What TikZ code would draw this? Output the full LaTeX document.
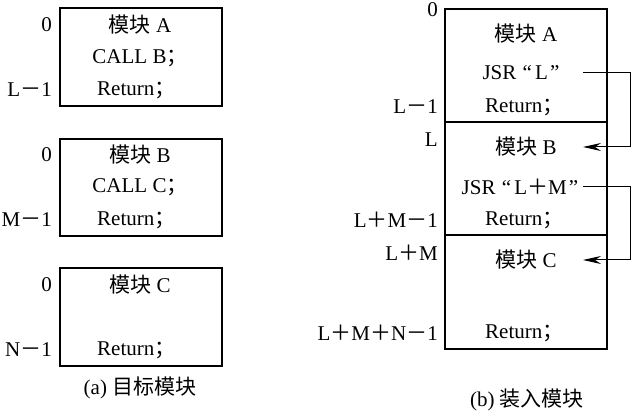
\documentclass[tikz,border=0pt]{standalone}
\usepackage{fontspec}
\setmainfont{Liberation Serif}
\newfontfamily\cjk{Noto Sans CJK SC}
\usetikzlibrary{arrows.meta,positioning}
\newcommand{\mk}{{\cjk 模块}}
\newcommand{\fen}{{\cjk ；}}
\newcommand{\jia}{{\cjk ＋}}
\newcommand{\jian}{{\cjk －}}
\newcommand{\quo}[1]{\hspace{0.3em}“\hspace{0.15em}#1\hspace{0.1em}”}

\begin{document}
\begin{tikzpicture}[x=1pt,y=-1pt,
    font=\fontsize{21}{25}\selectfont,
    block/.style={rectangle, draw, line width=1.6pt, minimum width=162pt, inner sep=0pt, outer sep=0pt},
    addr/.style={anchor=east, inner sep=0pt},
    code/.style={inner sep=0pt},
    ret/.style={anchor=west, inner sep=0pt},
    arrow/.style={-{Stealth[length=18pt,width=8pt,inset=6pt]}, line width=1pt}
]
    \useasboundingbox (0,0) rectangle (632,411);

    % (a) target modules
    \node[block, minimum height=98pt] (tgtA) at (141,57) {};
    \node[code] (nameA) at (140,25) {\mk\ A};
    \node[code] (callB) at (140,58) {CALL B\fen};
    \node[ret] (retA) at (97,90) {Return\fen};
    \node[addr] (a0) at (52,25) {0};
    \node[addr] (a1) at (52,90) {L\jian 1};

    \node[block, minimum height=97pt] (tgtB) at (141,187.5) {};
    \node[code] (nameB) at (140,155) {\mk\ B};
    \node[code] (callC) at (140,187) {CALL C\fen};
    \node[ret] (retB) at (97,220) {Return\fen};
    \node[addr] (b0) at (52,155) {0};
    \node[addr] (b1) at (52,220) {M\jian 1};

    \node[block, minimum height=98pt] (tgtC) at (141,317) {};
    \node[code] (nameC) at (140,285) {\mk\ C};
    \node[ret] (retC) at (97,350) {Return\fen};
    \node[addr] (c0) at (52,285) {0};
    \node[addr] (c1) at (52,350) {N\jian 1};

    \node (capA) at (140,388) {(a) {\cjk 目标模块}};

    % (b) loaded module
    \node[block, minimum height=113pt] (segA) at (526,65.5) {};
    \node[block, minimum height=113pt, below=0pt of segA] (segB) {};
    \node[block, minimum height=114pt, below=0pt of segB] (segC) {};

    \node[code] (lnA) at (526,34) {\mk\ A};
    \node[code] (jsrL) at (521,73) {JSR\quo{L}};
    \node[ret] (lrA) at (485,107) {Return\fen};
    \node[code] (lnB) at (526,147) {\mk\ B};
    \node[code] (jsrLM) at (520,187) {JSR\quo{L\jia M}};
    \node[ret] (lrB) at (485,220) {Return\fen};
    \node[code] (lnC) at (526,260) {\mk\ C};
    \node[ret] (lrC) at (485,333) {Return\fen};

    \node[addr] (m0) at (438,10) {0};
    \node[addr] (m1) at (438,107) {L\jian 1};
    \node[addr] (m2) at (438,140) {L};
    \node[addr] (m3) at (438,220) {L\jia M\jian 1};
    \node[addr] (m4) at (438,253) {L\jia M};
    \node[addr] (m5) at (438,333) {L\jia M\jia N\jian 1};

    \node (capB) at (527,400) {(b) {\cjk 装入模块}};

    % jumps
    \coordinate (outL) at (583,73);
    \coordinate (inB) at (583,147);
    \coordinate (outLM) at (583,187);
    \coordinate (inC) at (583,260);
    \draw[arrow] (outL) -- ++(47,0) |- (inB);
    \draw[arrow] (outLM) -- ++(47,0) |- (inC);
\end{tikzpicture}
\end{document}
